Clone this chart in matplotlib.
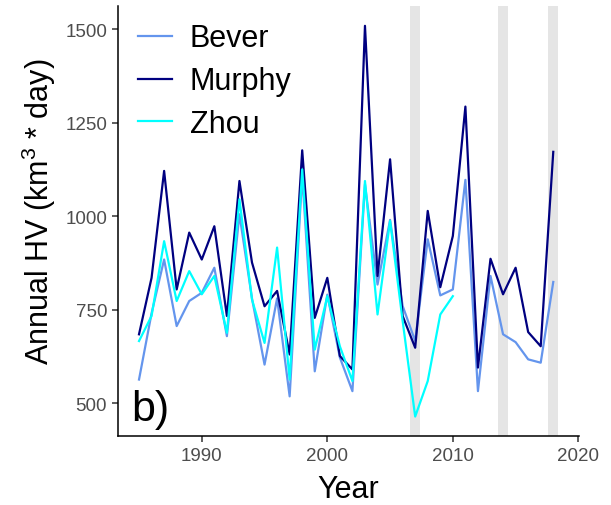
import numpy as np
import matplotlib
matplotlib.use("Agg")
import matplotlib.pyplot as plt

plt.rcParams['font.family'] = ['Liberation Sans', 'DejaVu Sans']
plt.rcParams['mathtext.fontset'] = 'custom'
plt.rcParams['mathtext.rm'] = 'Liberation Sans'
plt.rcParams['mathtext.it'] = 'Liberation Sans:italic'

years = list(range(1985, 2019))
bever = [563, 740, 884, 706, 773, 795, 862, 679, 1005, 780, 603, 780, 518, 1110,
         585, 790, 622, 532, 1085, 817, 990, 760, 666, 938, 788, 804, 1097, 532,
         840, 684, 663, 617, 608, 824]
murphy = [684, 835, 1121, 804, 956, 884, 973, 733, 1094, 876, 759, 800, 630, 1176,
          728, 835, 626, 590, 1509, 840, 1152, 733, 648, 1014, 810, 947, 1293, 595,
          886, 791, 862, 690, 652, 1172]
zhou_years = list(range(1985, 2011))
zhou = [666, 733, 933, 773, 853, 791, 840, 688, 1045, 777, 661, 916, 563, 1125,
        643, 786, 652, 559, 1094, 737, 987, 720, 464, 559, 737, 786]
band_years = [2007, 2014, 2018]

fig = plt.figure(figsize=(6.11, 5.06), dpi=100)
ax = fig.add_axes([118.3/611, 1-437/506, (579-118.3)/611, (437-7)/506])

for by in band_years:
    ax.axvspan(by-0.4, by+0.4, color='#e5e5e5', lw=0, zorder=0)

ax.plot(years, bever, color='#6495ED', lw=1.6, label='Bever', zorder=2)
ax.plot(years, murphy, color='#000080', lw=1.6, label='Murphy', zorder=3)
ax.plot(zhou_years, zhou, color='#00FFFF', lw=1.6, label='Zhou', zorder=4)

ax.set_xlim(1983.35, 2020.05)
ax.set_ylim(412, 1562)
ax.set_xticks([1990, 2000, 2010, 2020])
ax.set_yticks([500, 750, 1000, 1250, 1500])

for s in ['top', 'right']:
    ax.spines[s].set_visible(False)
for s in ['left', 'bottom']:
    ax.spines[s].set_color('black')
    ax.spines[s].set_linewidth(1.1)
ax.tick_params(axis='both', which='major', length=4.5, width=1.1, color='#333333',
               labelcolor='#4d4d4d', labelsize=13.5, pad=3.5)

ax.set_xlabel('Year', fontsize=22, color='black', labelpad=7)
ax.set_ylabel('Annual HV (km$^{3}$ * day)', fontsize=22, color='black', labelpad=5)
ax.yaxis.label.set_y(0.523)

ax.text(1984.4, 456, 'b)', fontsize=31, ha='left', va='baseline', color='black')

leg = ax.legend(loc='upper left', frameon=False, fontsize=22, handlelength=1.1,
                handletextpad=0.6, labelspacing=0.42, borderaxespad=0.0,
                borderpad=0.4, bbox_to_anchor=(0.016, 0.988))

fig.savefig('out.png', dpi=100)
